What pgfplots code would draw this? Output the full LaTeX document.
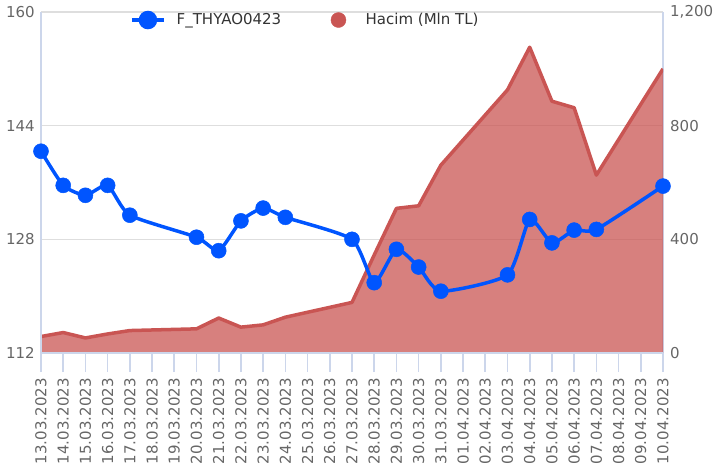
\documentclass[border=0pt]{standalone}
\usepackage{pgfplots}
\usepackage{pgfplotstable}
\pgfplotsset{compat=1.18}
\usepackage{fontspec}
\setmainfont{DejaVu Sans}
\definecolor{tblue}{RGB}{0,85,255}
\definecolor{tred}{RGB}{201,85,83}
\definecolor{axblue}{RGB}{204,214,235}
\definecolor{gridc}{RGB}{222,222,222}
\definecolor{lab}{RGB}{102,102,102}
\definecolor{leg}{RGB}{51,51,51}
\newcommand{\tf}{\fontsize{15}{18}\selectfont}

\pgfplotstableread{
x vol
0 58
1 72
2 53
3 67
4 79
7 85
8 123
9 91
10 99
11 126
14 178
15 345
16 509
17 518
18 661
21 926
22 1076
23 886
24 863
25 626
28 1000
}\voltab

\pgfplotstableread{
x price
0 140.4
1 135.6
2 134.2
3 135.6
4 131.4
7 128.3
8 126.4
9 130.6
10 132.4
11 131.1
14 128.0
15 121.9
16 126.6
17 124.1
18 120.7
21 123.0
22 130.8
23 127.5
24 129.3
25 129.4
28 135.5
}\pricetab

\begin{document}
\begin{tikzpicture}
\path[use as bounding box] (-41pt,-119pt) rectangle (674pt,353pt);
\begin{axis}[
  at={(0pt,0pt)}, anchor=south west,
  scale only axis, width=622pt, height=341pt,
  xmin=0, xmax=28, ymin=0, ymax=1200,
  axis x line=none, axis y line*=right,
  ytick={0,400,800,1200}, yticklabels={0,400,800,{1,200}},
  ymajorgrids, grid style={gridc, line width=1.2pt},
  y axis line style={axblue, line width=1.2pt},
  ytick style={draw=none},
  major tick length=0pt,
  yticklabel style={font=\tf, text=lab, anchor=west, inner sep=0pt, xshift=7pt},
]
\addplot[draw=none, fill=tred, fill opacity=0.75] table[x=x,y=vol]{\voltab} \closedcycle;
\addplot[draw=tred, line width=3.5pt, line join=round] table[x=x,y=vol]{\voltab};
\end{axis}
\begin{axis}[
  at={(0pt,0pt)}, anchor=south west,
  scale only axis, width=622pt, height=341pt,
  xmin=0, xmax=28, ymin=112, ymax=160,
  clip=false,
  axis x line*=bottom, axis y line*=left,
  ytick={112,128,144,160}, yticklabels={112,128,144,160},
  xtick={0,...,28},
  xticklabels={13.03.2023,14.03.2023,15.03.2023,16.03.2023,17.03.2023,18.03.2023,19.03.2023,20.03.2023,21.03.2023,22.03.2023,23.03.2023,24.03.2023,25.03.2023,26.03.2023,27.03.2023,28.03.2023,29.03.2023,30.03.2023,31.03.2023,01.04.2023,02.04.2023,03.04.2023,04.04.2023,05.04.2023,06.04.2023,07.04.2023,08.04.2023,09.04.2023,10.04.2023},
  x axis line style={axblue, line width=1.2pt},
  y axis line style={axblue, line width=1.2pt},
  xtick style={axblue, line width=1.6pt},
  ytick style={draw=none},
  xtick align=outside,
  major tick length=19pt,
  yticklabel style={font=\tf, text=lab, anchor=east, inner sep=0pt, xshift=-6pt},
  xticklabel style={font=\tf, text=lab, rotate=90, anchor=east, inner sep=0pt, xshift=-6pt},
  legend columns=2,
  legend cell align=left,
  legend style={at={(0.1431,0.9765)}, anchor=west, draw=none, fill=none,
    font=\tf, text=leg, column sep=0pt, inner sep=0pt, nodes={inner sep=0pt}},
]
\addplot[tblue, line width=3.5pt, smooth, tension=0.35, mark=*, mark size=7.5pt,
  mark options={fill=tblue, draw=tblue, line width=0.5pt},
  legend image code/.code={
    \draw[line width=3.5pt, draw=tblue] (0pt,0pt) -- (32pt,0pt);
    \fill[tblue] (16pt,0pt) circle[radius=7.5pt];
    \path (43pt,0pt);}
] table[x=x,y=price]{\pricetab};
\addlegendentry{F\_THYAO0423}
\addlegendimage{legend image code/.code={
    \path (-41pt,0pt);
    \fill[tred] (16pt,0pt) circle[radius=7.5pt];
    \path (43pt,0pt);}}
\addlegendentry{Hacim (Mln TL)}
\end{axis}
\end{tikzpicture}
\end{document}
